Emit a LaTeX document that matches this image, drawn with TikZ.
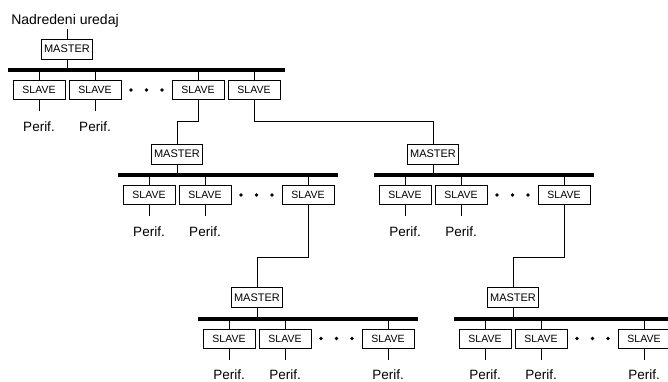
\documentclass[tikz,border=0pt]{standalone}
\usepackage{fontspec}
\setmainfont{Liberation Sans}
\usetikzlibrary{calc,positioning}

\tikzset{
	master/.style={draw, line width=0.8pt, minimum width=51pt, minimum height=20pt, inner sep=0pt, font=\fontsize{11}{13}\selectfont},
	slave/.style={draw, line width=0.8pt, minimum width=52pt, minimum height=19pt, inner sep=0pt, font=\fontsize{10.5}{12}\selectfont},
	perif/.style={inner xsep=1pt, inner ysep=10pt, font=\fontsize{13.5}{16}\selectfont},
	bus/.style={line width=4pt},
	wire/.style={line width=0.8pt}
}

% one bus with its master and three slaves: name, left end of bus, bus length
\def\segment#1(#2,#3)#4{
	\draw[bus] (#2,#3) coordinate (#1b) -- ++(#4,0);
	\node[master] (#1m) at (#2+59,#3-21) {MASTER};
	\node[slave] (#1s1) at (#2+31,#3+20) {SLAVE};
	\node[slave] (#1s2) at (#2+87,#3+20) {SLAVE};
	\node[slave] (#1s3) at (#2+190,#3+20) {SLAVE};
	\fill (#2+123,#3+20) circle (1.8) (#2+138.5,#3+20) circle (1.8) (#2+154,#3+20) circle (1.8);
	\draw[wire] (#1m) -- (#1m |- #1b);
	\draw[wire] (#1s1) -- (#1s1 |- #1b);
	\draw[wire] (#1s2) -- (#1s2 |- #1b);
	\draw[wire] (#1s3) -- (#1s3 |- #1b);
}

\begin{document}
\begin{tikzpicture}[x=1pt, y=-1pt]
			%%%%% START %%%%%
			\useasboundingbox (0,0) rectangle (668,382);
			\clip (0,0) rectangle (668,382);
			
			\node[font=\fontsize{14}{17}\selectfont, inner sep=1pt, anchor=base] (top) at (65,25) {Nadredeni uredaj};
			
			\segment{t}(8,70){277}
			\node[slave] (ts4) at (254,90) {SLAVE};
			\draw[wire] (ts4) -- (ts4 |- tb);
			\draw[wire] (tm) -- (tm |- top.south);
			
			\segment{ml}(118,175){220}
			\segment{mr}(374,175){220}
			\segment{bl}(198,318.5){220}
			\segment{br}(454,318.5){220}
			
			\node[perif, below=11.5pt of ts1] (tp1) {Perif.};
			\node[perif, below=11.5pt of ts2] (tp2) {Perif.};
			\draw[wire] (ts1) -- (tp1);
			\draw[wire] (ts2) -- (tp2);
			
			\node[perif, below=11.5pt of mls1] (mlp1) {Perif.};
			\node[perif, below=11.5pt of mls2] (mlp2) {Perif.};
			\draw[wire] (mls1) -- (mlp1);
			\draw[wire] (mls2) -- (mlp2);
			
			\node[perif, below=11.5pt of mrs1] (mrp1) {Perif.};
			\node[perif, below=11.5pt of mrs2] (mrp2) {Perif.};
			\draw[wire] (mrs1) -- (mrp1);
			\draw[wire] (mrs2) -- (mrp2);
			
			\node[perif, below=11.5pt of bls1] (blp1) {Perif.};
			\node[perif, below=11.5pt of bls2] (blp2) {Perif.};
			\node[perif, below=11.5pt of bls3] (blp3) {Perif.};
			\draw[wire] (bls1) -- (blp1);
			\draw[wire] (bls2) -- (blp2);
			\draw[wire] (bls3) -- (blp3);
			
			\node[perif, below=11.5pt of brs1] (brp1) {Perif.};
			\node[perif, below=11.5pt of brs2] (brp2) {Perif.};
			\node[perif, below=11.5pt of brs3] (brp3) {Perif.};
			\draw[wire] (brs1) -- (brp1);
			\draw[wire] (brs2) -- (brp2);
			\draw[wire] (brs3) -- (brp3);
			
			% links down to the next level
			\draw[wire] (ts3) -- ++(0,31) -| (mlm);
			\draw[wire] (ts4) -- ++(0,31) -| (mrm);
			\draw[wire] (mls3) -- ++(0,62) -| (blm);
			\draw[wire] (mrs3) -- ++(0,62) -| (brm);
			
			%%%%% END %%%%%
\end{tikzpicture}
\end{document}
